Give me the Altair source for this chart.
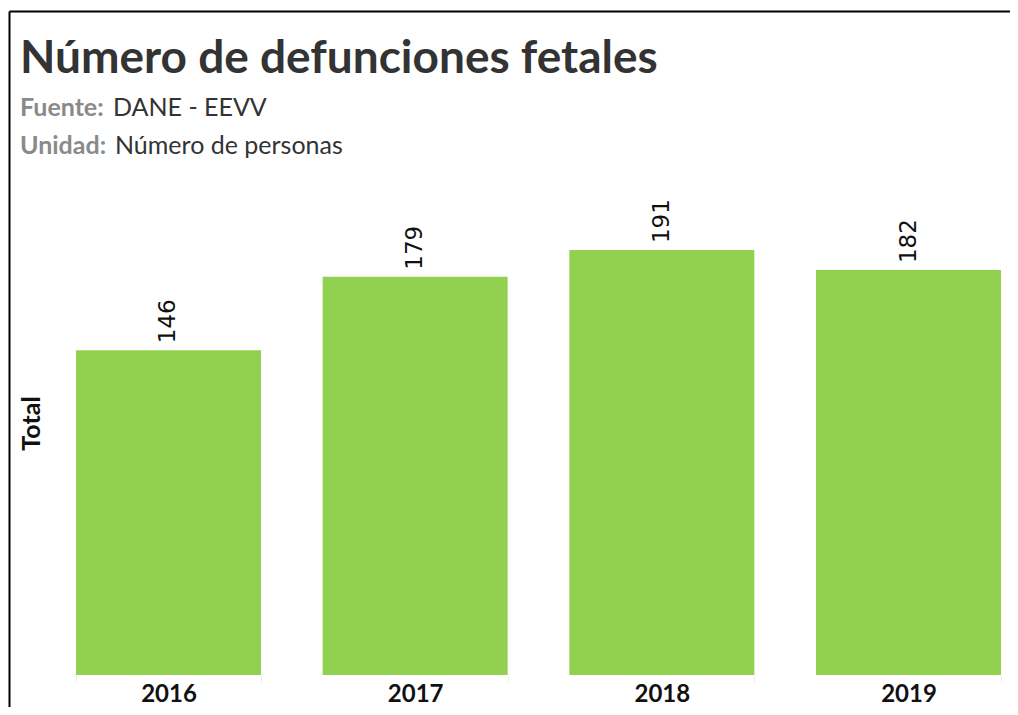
import altair as alt
import pandas as pd

# ---- data ----
years = ["2016", "2017", "2018", "2019"]
values = [146, 179, 191, 182]

title_text = "Número de defunciones fetales"
src_label = "Fuente:"
src_value = "DANE - EEVV"
unit_label = "Unidad:"
unit_value = "Número de personas"
y_title = "Total"

df = pd.DataFrame({"year": years, "value": values})

FONT = "Lato"

x_enc = alt.X(
    "year:N",
    sort=years,
    scale=alt.Scale(range=[0, 985], paddingInner=0.25, paddingOuter=0.1216),
    axis=alt.Axis(
        title=None,
        labelAngle=0,
        labelFont=FONT,
        labelFontSize=24,
        labelFontWeight="bold",
        labelColor="#111111",
        labelPadding=0,
        domain=False,
        ticks=True,
        tickBand="extent",
        tickColor="#eeeeee",
        tickSize=7,
        grid=False,
    ),
)
y_enc = alt.Y(
    "value:Q",
    scale=alt.Scale(domain=[0, 200], nice=False),
    axis=alt.Axis(
        title=y_title,
        labels=False,
        ticks=False,
        domain=False,
        grid=False,
        titleX=-15,
        titleY=193,
        titleAngle=270,
        titleAlign="center",
        titleBaseline="middle",
        titleFont=FONT,
        titleFontSize=25,
        titleFontWeight="bold",
        titleColor="#111111",
    ),
)

base = alt.Chart(df)
bars = base.mark_bar(color="#92D050").encode(x=x_enc, y=y_enc)
labels = base.mark_text(
    angle=270, align="left", baseline="middle", dx=7,
    font="DejaVu Sans", fontSize=23, color="#111111"
).encode(x=alt.X("year:N", sort=years), y="value:Q", text="value:Q")


def txt(s, x, y, size, weight, color):
    return alt.Chart(pd.DataFrame({"t": [s]})).mark_text(
        align="left", baseline="alphabetic", font=FONT, fontSize=size,
        fontWeight=weight, color=color
    ).encode(x=alt.value(x), y=alt.value(y), text="t:N")


title = txt(title_text, -26, -157, 46, "bold", "#333333")
s1 = txt(src_label, -26, -114, 25, "bold", "#8a8a8a")
s2 = txt(src_value, 67, -114, 25, "normal", "#333333")
u1 = txt(unit_label, -26, -76, 25, "bold", "#8a8a8a")
u2 = txt(unit_value, 69, -76, 25, "normal", "#333333")

frame_df = pd.DataFrame({"a": [0]})
top_line = alt.Chart(frame_df).mark_rule(color="#000000", strokeWidth=2).encode(
    x=alt.value(-36.5), x2=alt.value(1100), y=alt.value(-218.5)
)
left_line = alt.Chart(frame_df).mark_rule(color="#000000", strokeWidth=2).encode(
    x=alt.value(-36.5), y=alt.value(-218.5), y2=alt.value(600)
)

chart = alt.layer(
    bars, labels, title, s1, s2, u1, u2, top_line, left_line
).properties(
    width=964,
    height=445,
    padding={"left": 38, "top": 222, "right": 0, "bottom": 32},
    autosize="none",
    background="white",
).configure_view(strokeWidth=0)

chart.save("out.html", embed_options={"renderer": "svg", "actions": False})
